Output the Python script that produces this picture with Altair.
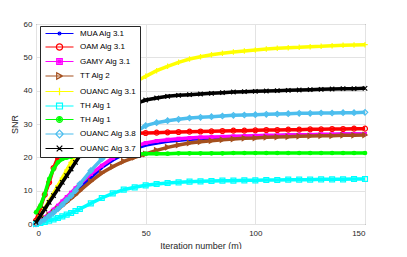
import altair as alt
import pandas as pd

X = [0, 2, 4, 6, 8, 10, 12, 14, 16, 18, 20, 25, 30, 35, 40, 45, 50, 55, 60, 65, 70,
     75, 80, 85, 90, 95, 100, 105, 110, 115, 120, 125, 130, 135, 140, 145, 150]

names = ["MUA Alg 3.1", "OAM Alg 3.1", "GAMY Alg 3.1", "TT Alg 2", "OUANC Alg 3.1",
         "TH Alg 1", "TH Alg 1 ", "OUANC Alg 3.8", "OUANC Alg 3.7"]

mua = [0, 0.9, 1.9, 2.9, 4, 5, 6.2, 7.4, 8.6, 9.8, 11, 14, 17, 19.2, 21, 22.6, 23.7, 24.3, 24.8, 25.1, 25.4,
       25.6, 25.8, 25.9, 26.1, 26.2, 26.3, 26.4, 26.5, 26.6, 26.6, 26.7, 26.8, 26.8, 26.9, 26.9, 26.9]
oam = [1, 5, 8.8, 12.5, 16.8, 20, 22.2, 23.6, 24.5, 25, 25.5, 26.2, 26.5, 26.8, 27, 27.2, 27.3, 27.4, 27.5, 27.6, 27.7,
       27.75, 27.8, 27.9, 28, 28, 28.1, 28.2, 28.2, 28.3, 28.3, 28.4, 28.4, 28.5, 28.5, 28.6, 28.6]
gamy = [0, 1, 2, 3.1, 4.3, 5.5, 6.8, 8.1, 9.4, 10.7, 12, 15, 17.5, 19.8, 21.8, 23.3, 24.3, 24.9, 25.3, 25.6, 25.8,
        26, 26.1, 26.2, 26.3, 26.4, 26.5, 26.6, 26.6, 26.7, 26.8, 26.8, 26.9, 26.9, 27, 27, 27]
tt = [0, 0.8, 1.7, 2.6, 3.5, 4.5, 5.5, 6.6, 7.7, 8.8, 10, 12.8, 15.3, 17.2, 18.8, 20, 21, 22.1, 23, 23.7, 24.3,
      24.7, 25, 25.3, 25.5, 25.7, 25.8, 26, 26.1, 26.2, 26.3, 26.4, 26.5, 26.5, 26.6, 26.6, 26.7]
ouanc31 = [0.5, 2.5, 4.7, 7, 9.2, 11.5, 13.8, 16.2, 18.5, 20.8, 23, 28.3, 33, 37, 40, 42.5, 44.3, 46, 47.3, 48.5, 49.5,
           50.2, 50.8, 51.2, 51.6, 51.9, 52.2, 52.5, 52.7, 52.9, 53, 53.2, 53.3, 53.5, 53.6, 53.7, 53.8]
th_cyan = [0, 0.3, 0.6, 1, 1.4, 1.8, 2.3, 2.8, 3.3, 3.9, 4.5, 6.2, 7.8, 9.2, 10.3, 11, 11.6, 12, 12.3, 12.5, 12.7,
           12.8, 12.9, 13, 13, 13.1, 13.1, 13.2, 13.2, 13.3, 13.3, 13.3, 13.4, 13.4, 13.4, 13.5, 13.5]
th_green = [3.5, 5.5, 9, 13.5, 16.5, 18.5, 19.5, 19.9, 20.2, 20.4, 20.5, 20.7, 20.8, 20.9, 21, 21, 21.1, 21.1, 21.1,
            21.2, 21.2, 21.2, 21.2, 21.2, 21.3, 21.3, 21.3, 21.3, 21.3, 21.3, 21.3, 21.3, 21.3, 21.3, 21.3, 21.3, 21.3]
ouanc38 = [0, 0.6, 1.4, 2.4, 3.4, 4.5, 5.8, 7.2, 8.5, 10, 12, 16, 19.5, 22, 25, 27.5, 29.5, 30.4, 31, 31.4, 31.8,
           32, 32.2, 32.4, 32.6, 32.7, 32.8, 32.9, 33, 33.1, 33.2, 33.2, 33.3, 33.3, 33.4, 33.4, 33.5]
ouanc37 = [0.5, 2.5, 4.5, 6.5, 8.5, 10.5, 12.5, 14.5, 16.5, 18.5, 20.5, 25, 29.3, 32, 34.3, 36, 37.2, 37.8, 38.3, 38.6,
           38.8, 39, 39.2, 39.4, 39.6, 39.7, 39.8, 39.9, 40, 40.1, 40.2, 40.3, 40.4, 40.5, 40.6, 40.6, 40.7]

values = [mua, oam, gamy, tt, ouanc31, th_cyan, th_green, ouanc38, ouanc37]
colors = ["#0000FF", "#FF0000", "#FF00FF", "#A5501E", "#FFFF00",
          "#00FFFF", "#00FF00", "#4DBEEE", "#000000"]

# plot markers: (shape, filled, size)
markers = [
    ("circle", True, 8),
    ("circle", False, 24),
    ("square", True, 16),
    ("triangle-right", False, 24),
    ("M-1,0H1M0,-1V1", False, 30),
    ("square", False, 24),
    ("circle", True, 22),
    ("diamond", False, 30),
    ("M-1,-1L1,1M-1,1L1,-1", False, 20),
]

L = "M-4,0H4"
legend_paths = [
    L + "M-0.4,0a0.4,0.4 0 1,0 0.8,0a0.4,0.4 0 1,0 -0.8,0",
    L + "M-0.9,0a0.9,0.9 0 1,0 1.8,0a0.9,0.9 0 1,0 -1.8,0",
    L + "M-0.8,-0.8H0.8V0.8H-0.8ZM-0.4,-0.4H0.4V0.4H-0.4ZM-0.1,-0.1H0.1V0.1H-0.1Z",
    L + "M-0.8,-0.9L0.9,0L-0.8,0.9Z",
    L + "M0,-1.1V1.1",
    L + "M-0.85,-0.85H0.85V0.85H-0.85Z",
    L + "M-0.85,0a0.85,0.85 0 1,0 1.7,0a0.85,0.85 0 1,0 -1.7,0M-0.45,0a0.45,0.45 0 1,0 0.9,0a0.45,0.45 0 1,0 -0.9,0M-0.1,0a0.1,0.1 0 1,0 0.2,0a0.1,0.1 0 1,0 -0.2,0",
    L + "M0,-1.1L1.1,0L0,1.1L-1.1,0Z",
    L + "M-0.8,-0.8L0.8,0.8M-0.8,0.8L0.8,-0.8",
]

FONT = "Liberation Sans"

xaxis = alt.Axis(values=[0, 50, 100, 150], title="Iteration number (m)", grid=True, gridColor="#e3e3e3",
                 ticks=False, domain=False, labelFont=FONT, labelFontSize=8, labelColor="#262626",
                 labelPadding=5, titleFont=FONT, titleFontSize=9, titleFontWeight="normal",
                 titleColor="#262626", titlePadding=4)
yaxis = alt.Axis(values=[0, 10, 20, 30, 40, 50, 60], title="SNR", grid=True, gridColor="#e3e3e3",
                 ticks=False, domain=False, labelFont=FONT, labelFontSize=8, labelColor="#262626",
                 labelPadding=4, titleFont=FONT, titleFontSize=9, titleFontWeight="normal",
                 titleColor="#262626", titlePadding=4)
xs = alt.Scale(domain=[0, 150], nice=False, zero=False)
ys = alt.Scale(domain=[0, 60], nice=False, zero=False)

layers = []
for name, vals, color, (shape, filled, size) in zip(names, values, colors, markers):
    df = pd.DataFrame({"x": X, "y": vals, "series": name})
    enc = dict(x=alt.X("x:Q", scale=xs, axis=xaxis), y=alt.Y("y:Q", scale=ys, axis=yaxis))
    layers.append(alt.Chart(df).mark_line(color=color, strokeWidth=3.5).encode(**enc))
    layers.append(alt.Chart(df).mark_point(color=color, shape=shape, filled=filled, size=size,
                                           strokeWidth=1.2, opacity=1).encode(**enc))

leg_df = pd.DataFrame({"series": names, "x": [0] * len(names), "y": [0] * len(names)})
leg_common = dict(title=None, orient="none", legendX=4, legendY=2, fillColor="white",
                  strokeColor="#262626", padding=3, symbolSize=49, symbolStrokeWidth=1.2,
                  symbolOpacity=1, symbolOffset=12, labelOffset=16, labelFont=FONT, labelFontSize=8,
                  labelColor="black", rowPadding=2.5, zindex=1, symbolFillColor="transparent")
legend_layer = alt.Chart(leg_df).mark_point(opacity=0, filled=False).encode(
    x=alt.X("x:Q", scale=xs, axis=xaxis),
    y=alt.Y("y:Q", scale=ys, axis=yaxis),
    color=alt.Color("series:N", scale=alt.Scale(domain=names, range=colors), legend=alt.Legend(**leg_common)),
    shape=alt.Shape("series:N", scale=alt.Scale(domain=names, range=legend_paths), legend=alt.Legend(**leg_common)),
)
layers.append(legend_layer)

chart = alt.layer(*layers).properties(
    width=329, height=200,
    autosize=alt.AutoSizeParams(type="none"),
    padding={"left": 28, "top": 16, "right": 34, "bottom": 25},
).configure_view(stroke="#404040", strokeWidth=1)

chart.save("out.html", embed_options={"renderer": "svg", "actions": False})
